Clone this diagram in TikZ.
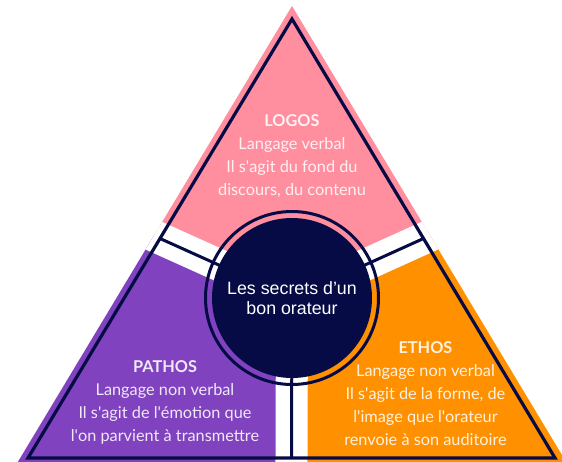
\documentclass[tikz,border=0pt]{standalone}
\usepackage{fontspec}
\setmainfont{Lato}
\newfontfamily\arialfont{Liberation Sans}
\usetikzlibrary{calc}
\definecolor{navy}{HTML}{060B45}
\definecolor{pinkc}{HTML}{FF8E9E}
\definecolor{purplec}{HTML}{8042BF}
\definecolor{orangec}{HTML}{FF9000}
\newcommand{\ap}{\textquotesingle}
\tikzset{
  navyline/.style={draw=navy, line width=3.2pt, line join=miter},
  band/.style={draw=white, line width=32pt, line cap=butt},
  blocktext/.style={align=center, text=white, text opacity=0.88, inner sep=0pt,
    font=\fontsize{16.3}{23}\selectfont},
}
\begin{document}
\begin{tikzpicture}[x=1pt,y=-1pt]
\useasboundingbox (0,0) rectangle (562,461);
\coordinate (ctr) at (292,298);
\coordinate (A) at (292,19);
\coordinate (B) at (28,458);
\coordinate (C) at (555,458);
\coordinate (mAB) at ($(A)!0.5!(B)$);
\coordinate (mAC) at ($(A)!0.5!(C)$);
\coordinate (mBC) at ($(B)!0.5!(C)$);
\coordinate (farL) at ($(ctr)!3!(mAB)$);
\coordinate (farR) at ($(ctr)!3!(mAC)$);
\coordinate (farB) at ($(ctr)!3!(mBC)$);
\begin{scope}
  \clip (0,0) rectangle (562,461);
  \clip (292,6) -- (13,470) -- (571,470) -- cycle;
  \fill[pinkc] (ctr) -- (farL) -- (-200,-200) -- (800,-200) -- (farR) -- cycle;
  \fill[purplec] (ctr) -- (farL) -- (-200,800) -- (farB) -- cycle;
  \fill[orangec] (ctr) -- (farR) -- (800,800) -- (farB) -- cycle;
  \draw[band] (ctr) -- (farL);
  \draw[band] (ctr) -- (farR);
  \draw[band] (ctr) -- (farB);
\end{scope}
\draw[navyline] (A) -- (B) -- (C) -- cycle;
\draw[navyline, line width=3pt] (ctr) -- (mAB);
\draw[navyline, line width=3pt] (ctr) -- (mAC);
\draw[navyline, line width=3pt] (ctr) -- (mBC);
\draw[navy, line width=3pt] (ctr) circle[radius=86.5];
\node[circle, fill=navy, minimum size=160pt, inner sep=0pt, align=center, text=white,
  font=\arialfont\fontsize{17.8}{20}\selectfont] (core) at (ctr) {Les secrets d’un\\bon orateur};
\node[blocktext] (logos) at (292,156) {\textbf{LOGOS}\\Langage verbal\\Il s\ap agit du fond du\\discours, du contenu};
\node[blocktext] (pathos) at (165,402.5) {\textbf{PATHOS}\\Langage non verbal\\Il s\ap agit de l\ap émotion que\\l\ap on parvient à transmettre};
\node[blocktext] (ethos) at (425.5,394) {\textbf{ETHOS}\\Langage non verbal\\Il s\ap agit de la forme, de\\l\ap image que l\ap orateur\\renvoie à son auditoire};
\end{tikzpicture}
\end{document}
